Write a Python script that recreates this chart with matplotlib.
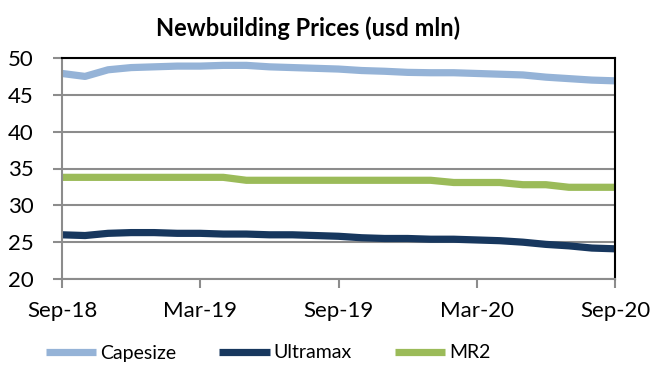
import matplotlib
matplotlib.use("Agg")
import matplotlib.pyplot as plt
import numpy as np

plt.rcParams['font.family'] = ['Lato', 'DejaVu Sans']

months = np.arange(25)  # Sep-18 .. Sep-20 monthly
capesize = [47.9, 47.5, 48.4, 48.7, 48.8, 48.9, 48.9, 49.0, 49.0, 48.8, 48.7, 48.6, 48.5,
            48.3, 48.2, 48.05, 48.0, 48.0, 47.9, 47.8, 47.7, 47.4, 47.2, 47.0, 46.9]
ultramax = [26.0, 25.9, 26.2, 26.3, 26.3, 26.2, 26.2, 26.1, 26.1, 26.0, 26.0, 25.9, 25.8,
            25.6, 25.5, 25.5, 25.4, 25.4, 25.3, 25.2, 25.0, 24.7, 24.5, 24.2, 24.1]
mr2 = [33.8, 33.8, 33.8, 33.8, 33.8, 33.8, 33.8, 33.8, 33.4, 33.4, 33.4, 33.4, 33.4,
       33.4, 33.4, 33.4, 33.4, 33.1, 33.1, 33.1, 32.8, 32.8, 32.45, 32.45, 32.45]
xtick_pos = [0, 6, 12, 18, 24]
xtick_labels = ['Sep-18', 'Mar-19', 'Sep-19', 'Mar-20', 'Sep-20']
yticks = [20, 25, 30, 35, 40, 45, 50]

fig = plt.figure(figsize=(6.57, 3.81), dpi=100)
ax = fig.add_axes([62/657, 1-279/381, (615-62)/657, (279-58)/381])

ax.plot(months, capesize, color='#95B3D7', lw=5.2, label='Capesize', solid_capstyle='butt')
ax.plot(months, ultramax, color='#17375E', lw=5.2, label='Ultramax', solid_capstyle='butt')
ax.plot(months, mr2, color='#9BBB59', lw=5.2, label='MR2', solid_capstyle='butt')

ax.set_xlim(0, 24)
ax.set_ylim(20, 50)
ax.set_yticks(yticks)
ax.set_xticks(xtick_pos)
ax.set_xticklabels(xtick_labels)
ax.yaxis.grid(True, color='#8C8C8C', lw=1.5)
ax.set_axisbelow(True)
for s in ['top', 'right']:
    ax.spines[s].set_color('black')
    ax.spines[s].set_linewidth(1.5)
for s in ['left', 'bottom']:
    ax.spines[s].set_color('#8C8C8C')
    ax.spines[s].set_linewidth(1.5)
ax.tick_params(axis='both', direction='out', length=6.5, width=1.5, color='#8C8C8C',
               labelsize=16, labelcolor='black')
ax.tick_params(axis='x', pad=9)
ax.tick_params(axis='y', pad=14)

fig.text(308/657, 1-28/381, 'Newbuilding Prices (usd mln)', ha='center', va='center',
         fontsize=17, fontweight='bold')

fig.legend(loc='center', bbox_to_anchor=(268/657, 1-353/381), ncol=3, frameon=False,
           fontsize=14, handlelength=2.6, columnspacing=2.2, handletextpad=0.2)

fig.savefig('out.png', dpi=100)
